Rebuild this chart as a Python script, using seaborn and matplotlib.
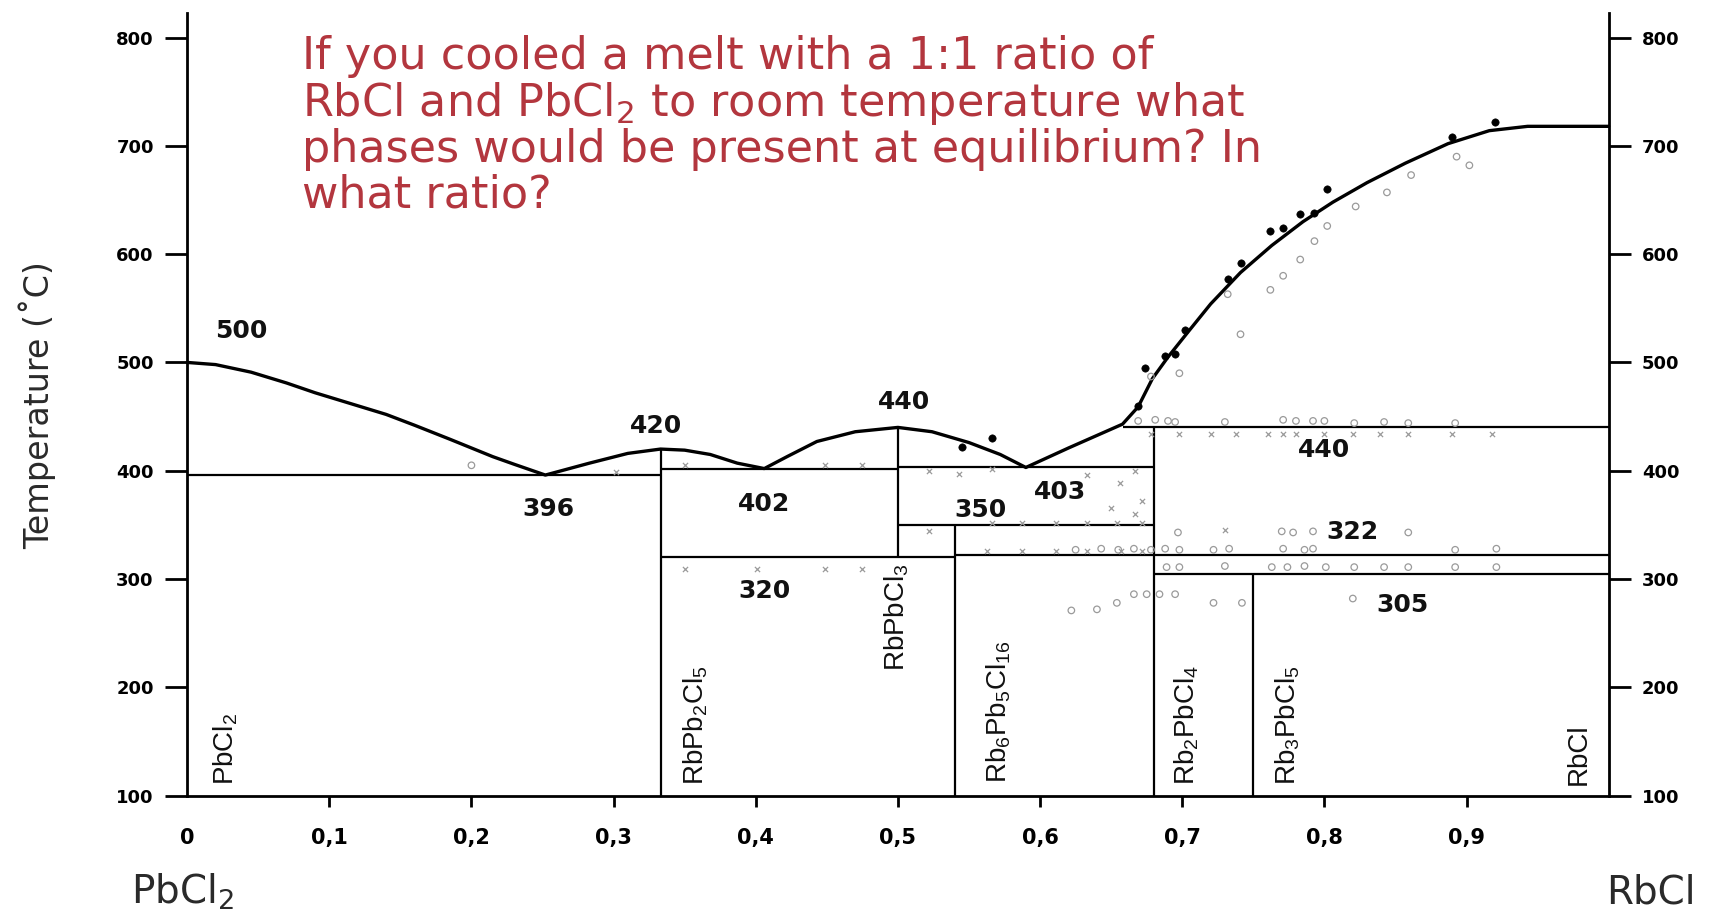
import matplotlib
matplotlib.use("Agg")
import matplotlib.pyplot as plt
import seaborn as sns

# ---------------- data ----------------
# liquidus of the PbCl2 - RbCl system (mole fraction RbCl, temperature / degC)
liq_x = [0.0, 0.02, 0.045, 0.07, 0.09, 0.115, 0.14, 0.16, 0.185, 0.2, 0.215, 0.23, 0.252,
         0.283, 0.31, 0.333, 0.35, 0.368, 0.387, 0.406,
         0.422, 0.443, 0.47, 0.5, 0.524, 0.55, 0.572, 0.59,
         0.62, 0.658, 0.669, 0.679, 0.69, 0.704, 0.72, 0.741, 0.763, 0.785,
         0.806, 0.83, 0.857, 0.887, 0.916, 0.943, 1.0]
liq_t = [500, 498, 491, 481, 472, 462, 452, 442, 429, 421, 413, 406, 396,
         407, 416, 420, 419, 415, 407, 402,
         413, 427, 436, 440, 436, 426, 415, 403,
         421, 443, 459, 485, 505, 528, 554, 583, 608, 630,
         648, 666, 684, 702, 714, 718, 718]

# invariant (horizontal) lines: temperature, from x, to x
inv_t = [396, 402, 320, 403, 350, 322, 305, 440]
inv_x0 = [0.0, 0.333, 0.333, 0.5, 0.5, 0.54, 0.68, 0.658]
inv_x1 = [0.333, 0.5, 0.54, 0.68, 0.68, 1.0, 1.0, 1.0]

# compound lines (vertical): composition, lower T, upper T
comp_x = [0.333, 0.5, 0.54, 0.68, 0.75]
comp_t0 = [100, 320, 100, 100, 100]
comp_t1 = [420, 440, 350, 440, 305]

# temperature annotations
ann_text = ["500", "396", "420", "402", "440", "320", "350", "403", "440", "322", "305"]
ann_x = [0.038, 0.254, 0.330, 0.406, 0.504, 0.406, 0.558, 0.614, 0.800, 0.820, 0.855]
ann_t = [529, 365, 441, 369, 463, 289, 364, 380, 419, 343, 276]

# phase names written vertically
phase_text = [r"PbCl$_2$", r"RbPb$_2$Cl$_5$", r"RbPbCl$_3$", r"Rb$_6$Pb$_5$Cl$_{16}$",
              r"Rb$_2$PbCl$_4$", r"Rb$_3$PbCl$_5$", "RbCl"]
phase_x = [0.027, 0.358, 0.4995, 0.571, 0.703, 0.774, 0.979]
phase_t = [110, 110, 215, 112, 110, 110, 110]

# measured points: thermal effects on heating (filled)
dot_x = [0.545, 0.566, 0.669, 0.674, 0.688, 0.695, 0.702, 0.732, 0.741,
         0.762, 0.771, 0.783, 0.793, 0.802, 0.890, 0.920]
dot_t = [422, 430, 460, 495, 506, 508, 530, 577, 592,
         621, 624, 637, 638, 660, 708, 722]

# measured points: open circles
circ_x = [0.20, 0.732, 0.741, 0.762, 0.771, 0.783, 0.793, 0.802, 0.822, 0.844,
          0.861, 0.893, 0.902, 0.698, 0.678,
          0.669, 0.681, 0.690, 0.695, 0.730, 0.771, 0.780, 0.792, 0.800,
          0.821, 0.842, 0.859, 0.892,
          0.625, 0.643, 0.655, 0.666, 0.678, 0.688, 0.698, 0.722, 0.733,
          0.771, 0.786, 0.792, 0.892, 0.921,
          0.697, 0.770, 0.778, 0.792, 0.859,
          0.689, 0.698, 0.730, 0.763, 0.774, 0.786, 0.801, 0.821, 0.842,
          0.859, 0.892, 0.921,
          0.622, 0.640, 0.654, 0.666, 0.675, 0.684, 0.695, 0.722, 0.742, 0.820]
circ_t = [405, 563, 526, 567, 580, 595, 612, 626, 644, 657,
          673, 690, 682, 490, 487,
          446, 447, 446, 445, 445, 447, 446, 446, 446,
          444, 445, 444, 444,
          327, 328, 327, 328, 327, 328, 327, 327, 328,
          328, 327, 328, 327, 328,
          343, 344, 343, 344, 343,
          311, 311, 312, 311, 311, 312, 311, 311, 311,
          311, 311, 311,
          271, 272, 278, 286, 286, 286, 286, 278, 278, 282]

# measured points: crosses
cross_x = [0.678, 0.698, 0.720, 0.738, 0.760, 0.771, 0.780, 0.800, 0.820, 0.839,
           0.859, 0.890, 0.918,
           0.522, 0.543, 0.566, 0.633, 0.656, 0.667, 0.650, 0.667, 0.672,
           0.566, 0.587, 0.611, 0.633, 0.654, 0.672,
           0.563, 0.587, 0.611, 0.633, 0.657, 0.672, 0.730, 0.522,
           0.350, 0.449, 0.475, 0.302, 0.350, 0.401, 0.449, 0.475]
cross_t = [434, 434, 434, 434, 434, 434, 434, 434, 434, 434,
           434, 434, 434,
           400, 397, 402, 396, 389, 400, 366, 360, 372,
           352, 352, 352, 352, 352, 352,
           326, 326, 326, 326, 326, 326, 345, 344,
           405, 405, 405, 399, 309, 309, 309, 309]

x_ticks = [0.0, 0.1, 0.2, 0.3, 0.4, 0.5, 0.6, 0.7, 0.8, 0.9]
x_tick_labels = ["0", "0,1", "0,2", "0,3", "0,4", "0,5", "0,6", "0,7", "0,8", "0,9"]
y_ticks = [100, 200, 300, 400, 500, 600, 700, 800]

question = ("If you cooled a melt with a 1:1 ratio of\n"
            "RbCl and PbCl$_2$ to room temperature what\n"
            "phases would be present at equilibrium? In\n"
            "what ratio?")

# ---------------- figure ----------------
sns.set_theme(style="white")
plt.rcParams["font.family"] = ["DejaVu Sans"]
plt.rcParams["mathtext.fontset"] = "custom"
plt.rcParams["mathtext.rm"] = "Liberation Sans"
plt.rcParams["mathtext.it"] = "Liberation Sans:italic"
plt.rcParams["mathtext.bf"] = "Liberation Sans:bold"

fig = plt.figure(figsize=(17.09, 9.16), dpi=100)
fig.patch.set_facecolor("white")
ax = fig.add_axes([0.0679, 0.1255, 0.915, 0.869])
ax.set_facecolor("white")

# liquidus
sns.lineplot(x=liq_x, y=liq_t, ax=ax, color="black", linewidth=2.4,
             sort=False, estimator=None)

# invariant and compound lines
ax.hlines(inv_t, inv_x0, inv_x1, colors="black", linewidth=1.6)
ax.vlines(comp_x, comp_t0, comp_t1, colors="black", linewidth=1.6)

# measured points
ax.scatter(circ_x, circ_t, s=22, facecolors="none", edgecolors="#9a9a9a",
           linewidths=0.9, zorder=3)
ax.scatter(cross_x, cross_t, s=14, marker="x", color="#9a9a9a",
           linewidths=0.9, zorder=3)
sns.scatterplot(x=dot_x, y=dot_t, ax=ax, color="black", s=28,
                edgecolor="black", zorder=4)

# temperature annotations
for txt, xv, tv in zip(ann_text, ann_x, ann_t):
    ax.text(xv, tv, txt, ha="center", va="center", fontsize=18,
            fontweight="bold", color="#111111")

# phase names
for txt, xv, tv in zip(phase_text, phase_x, phase_t):
    ax.text(xv, tv, txt, rotation=90, ha="center", va="bottom",
            fontsize=20, family="Liberation Sans", color="#111111")

# axes frame
ax.set_xlim(-0.05, 1.05)
ax.set_ylim(95, 830)
for side in ["left", "right", "bottom"]:
    ax.spines[side].set_visible(True)
    ax.spines[side].set_color("black")
    ax.spines[side].set_linewidth(2.0)
ax.spines["top"].set_visible(False)
ax.spines["left"].set_position(("data", 0.0))
ax.spines["right"].set_position(("data", 1.0))
ax.spines["bottom"].set_position(("data", 100))
ax.spines["left"].set_bounds(100, 823)
ax.spines["right"].set_bounds(100, 823)
ax.spines["bottom"].set_bounds(0.0, 1.0)

ax.set_yticks(y_ticks)
ax.set_yticklabels([str(v) for v in y_ticks], fontweight="bold", fontsize=13)
ax.tick_params(axis="y", which="major", left=True, right=True,
               labelleft=True, labelright=True, direction="out",
               length=16, width=2, pad=8, colors="black")
ax.set_xticks(x_ticks)
ax.set_xticklabels(x_tick_labels, fontweight="bold", fontsize=15)
ax.tick_params(axis="x", which="major", bottom=True, top=False,
               direction="out", length=8, width=2, pad=15, colors="black")
ax.xaxis.get_major_ticks()[0].tick1line.set_visible(False)
ax.set_xlabel("")
ax.set_ylabel("")
ax.grid(False)

# slide texts
fig.text(0.177, 0.962, question, ha="left", va="top", fontsize=32,
         color="#B3363E", linespacing=1.05, math_fontfamily="dejavusans")
fig.text(0.022, 0.558, "Temperature (˚C)", rotation=90, ha="center",
         va="center", fontsize=24, color="#2a2a2a")
fig.text(0.0767, 0.026, "PbCl$_2$", ha="left", va="center", fontsize=28,
         color="#2a2a2a", math_fontfamily="dejavusans")
fig.text(0.992, 0.026, "RbCl", ha="right", va="center", fontsize=28,
         color="#2a2a2a")

fig.savefig("out.png", dpi=100, facecolor="white")
